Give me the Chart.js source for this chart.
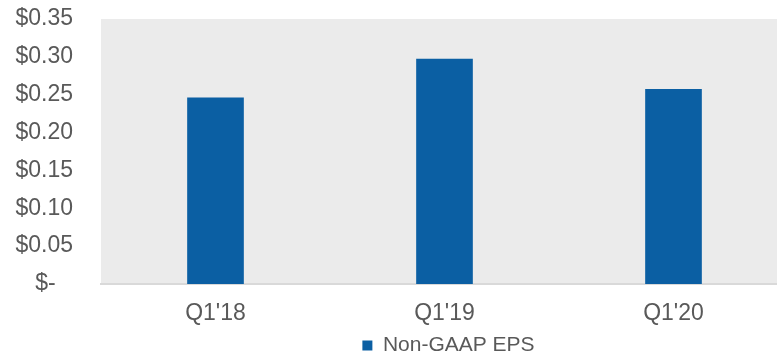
<!DOCTYPE html>
<html>
<head>
<meta charset="utf-8">
<script src="https://cdn.jsdelivr.net/npm/chart.js@4/dist/chart.umd.min.js"></script>
<style>
  html, body { margin: 0; padding: 0; background: #fff; overflow: hidden; }
  #wrap { width: 790px; height: 366px; }
</style>
</head>
<body>
<div id="wrap"><canvas id="epsChart" width="790" height="366"></canvas></div>
<script>
var quarters = ["Q1'18", "Q1'19", "Q1'20"];
var epsValues = [0.246, 0.297, 0.257];
var yTicks = [0, 0.05, 0.10, 0.15, 0.20, 0.25, 0.30, 0.35];

var barBlue = '#0b5fa3';
var textGray = '#595959';
var fontFamily = 'Liberation Sans, Arial, sans-serif';

// grey fill behind the plot area, legend nudged right a little
var plotBackground = {
    id: 'plotBackground',
    afterLayout: function (chart) {
        if (chart.legend) {
            chart.legend.left += 4;
            chart.legend.right += 4;
        }
    },
    beforeDraw: function (chart) {
        var a = chart.chartArea;
        var ctx = chart.ctx;
        ctx.save();
        ctx.fillStyle = '#ebebeb';
        ctx.fillRect(a.left, a.top, a.right - a.left, a.bottom - a.top);
        ctx.restore();
    }
};

new Chart(document.getElementById('epsChart'), {
    type: 'bar',
    data: {
        labels: quarters,
        datasets: [{
            label: 'Non-GAAP EPS',
            data: epsValues,
            backgroundColor: barBlue,
            barThickness: 56
        }]
    },
    options: {
        responsive: false,
        animation: false,
        devicePixelRatio: 1,
        layout: { padding: { top: 0, right: 2, left: 0, bottom: 0 } },
        plugins: {
            tooltip: { enabled: false },
            legend: {
                position: 'bottom',
                fullSize: false,
                labels: {
                    boxWidth: 10,
                    boxHeight: 10,
                    color: textGray,
                    font: { family: fontFamily, size: 21 },
                    padding: 3
                }
            }
        },
        scales: {
            x: {
                afterFit: function (scale) { scale.height = 48; },
                grid: { display: false, drawTicks: false },
                border: { display: true, color: '#d9d9d9', width: 2 },
                ticks: {
                    color: textGray,
                    padding: 16,
                    font: { family: fontFamily, size: 23 }
                }
            },
            y: {
                min: 0,
                max: 0.35,
                afterFit: function (scale) {
                    scale.width = 101;
                    scale.paddingTop = 19;
                },
                afterBuildTicks: function (scale) {
                    scale.ticks = yTicks.map(function (v) { return { value: v }; });
                },
                grid: { display: false, drawTicks: false },
                border: { display: false },
                ticks: {
                    autoSkip: false,
                    color: textGray,
                    padding: 28,
                    font: { family: fontFamily, size: 23 },
                    callback: function (v) {
                        if (v === 0) return '$-  \u2009';
                        return '$' + v.toFixed(2);
                    }
                }
            }
        }
    },
    plugins: [plotBackground]
});
</script>
</body>
</html>
